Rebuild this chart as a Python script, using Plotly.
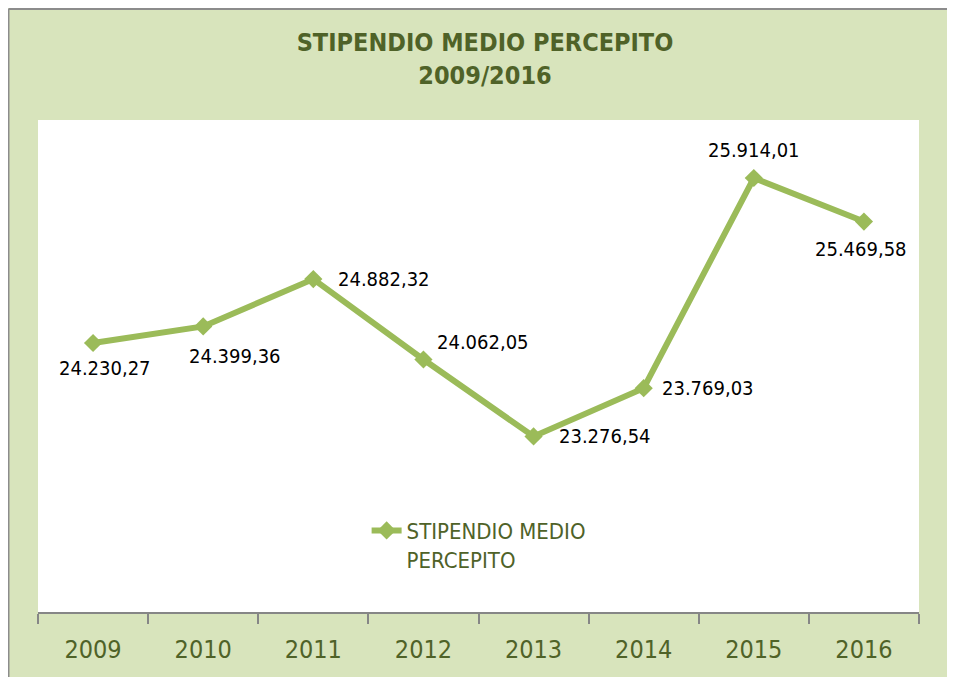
import plotly.graph_objects as go

years = ["2009", "2010", "2011", "2012", "2013", "2014", "2015", "2016"]
stipendio = [24230.27, 24399.36, 24882.32, 24062.05, 23276.54, 23769.03, 25914.01, 25469.58]
series_name = "STIPENDIO MEDIO<br>PERCEPITO"

# label offsets (pixels) relative to each point, as in the original chart
label_dx = [12, 32, 71, 60, 71, 64, 0, -3]
label_dy = [-25, -30, 0, 17, 0, 0, 28, -27]

GREEN = "#9bbb59"
DARK = "#4f6228"
BG = "#d8e4bc"
FONT = "Tahoma, 'DejaVu Sans Condensed', 'DejaVu Sans', sans-serif"


def fmt_it(v):
    s = f"{v:,.2f}"
    return s.replace(",", "X").replace(".", ",").replace("X", ".")


fig = go.Figure()
fig.add_trace(
    go.Scatter(
        x=years,
        y=stipendio,
        mode="lines+markers",
        name=series_name,
        line=dict(color=GREEN, width=6),
        marker=dict(symbol="diamond", size=14, color=GREEN),
    )
)

# data labels; category axis -> annotation x is the category index
for i, (v, dx, dy) in enumerate(zip(stipendio, label_dx, label_dy)):
    fig.add_annotation(
        x=i, y=v, text=fmt_it(v), showarrow=False,
        xshift=dx, yshift=dy,
        font=dict(family=FONT, size=20, color="#000000"),
    )

# grey border of the chart area (left and top edges)
fig.add_shape(type="line", xref="paper", yref="paper", x0=-0.0335, x1=-0.0335, y0=-0.3, y1=1.2256,
              line=dict(color="#8c8c8c", width=2), layer="above")
fig.add_shape(type="line", xref="paper", yref="paper", x0=-0.0335, x1=1.2, y0=1.2256, y1=1.2256,
              line=dict(color="#8c8c8c", width=2), layer="above")

fig.update_layout(
    width=947,
    height=669,
    margin=dict(l=30, r=36, t=112, b=65),
    paper_bgcolor=BG,
    plot_bgcolor="white",
    title=dict(
        text="<b>STIPENDIO MEDIO PERCEPITO<br>2009/2016</b>",
        x=0.5037, xref="container", xanchor="center",
        y=0.935, yref="container", yanchor="middle",
        font=dict(family=FONT, size=25, color=DARK),
    ),
    showlegend=True,
    legend=dict(
        x=0.373, y=0.208, xanchor="left", yanchor="top",
        bgcolor="rgba(0,0,0,0)", valign="top",
        font=dict(family=FONT, size=22, color=DARK),
    ),
    xaxis=dict(
        type="category",
        range=[-0.5, 7.5],
        showgrid=False,
        showline=True,
        linecolor="#868686",
        linewidth=2,
        ticks="outside",
        tickson="boundaries",
        ticklen=10,
        tickcolor="#868686",
        tickwidth=1.5,
        ticklabelstandoff=14,
        tickfont=dict(family=FONT, size=25, color=DARK),
        zeroline=False,
    ),
    yaxis=dict(
        range=[21485, 26506],
        visible=False,
        showgrid=False,
        zeroline=False,
    ),
)

# hide page scrollbars so the chart reaches the window edges
fig.write_html(
    "out.html",
    post_script="document.documentElement.style.overflow='hidden';document.body.style.overflow='hidden';",
)
